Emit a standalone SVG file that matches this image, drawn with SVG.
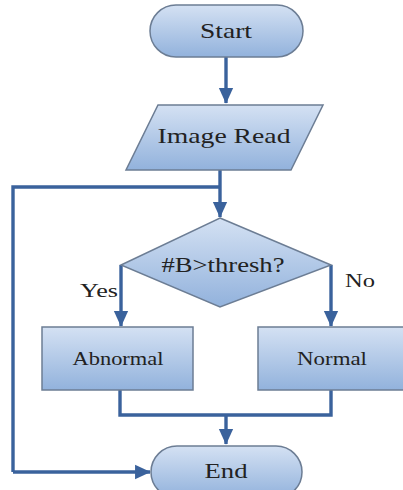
<svg xmlns="http://www.w3.org/2000/svg" width="403" height="490" viewBox="0 0 403 490">
<defs>
<linearGradient id="g" x1="0" y1="0" x2="0" y2="1">
<stop offset="0" stop-color="#d4e1f3"/>
<stop offset="1" stop-color="#92b2dc"/>
</linearGradient>
<marker id="ah" markerWidth="5" markerHeight="5" refX="4.4" refY="2.5" orient="auto" markerUnits="strokeWidth">
<path d="M0,0.4 L4.6,2.5 L0,4.6 Z" fill="#3a629c"/>
</marker>
<style>
.shape{fill:url(#g);stroke:#6c7d94;stroke-width:1.5}
.ln{fill:none;stroke:#3a629c;stroke-width:3.4}
.ar{marker-end:url(#ah)}
text{font-family:"Liberation Serif","Times New Roman",serif;fill:#222222;text-anchor:middle}
.t{font-size:21px}
.s{font-size:19px}
.l{font-size:18px}
</style>
</defs>
<rect width="403" height="490" fill="#ffffff"/>
<g id="connectors">
<path class="ln ar" d="M226,57 V103"/>
<path class="ln ar" d="M220,170 V217"/>
<path class="ln" d="M220,187 H13 V472"/>
<path class="ln ar" d="M13,472 H150"/>
<path class="ln ar" d="M121,265 V326"/>
<path class="ln ar" d="M331,265 V326"/>
<path class="ln" d="M120,390 V415 H331 V390"/>
<path class="ln ar" d="M226,415 V444"/>
</g>
<g id="start">
<rect class="shape" x="150" y="5" width="153" height="52" rx="26" ry="26"/>
<text class="t" x="226" y="38" textLength="52" lengthAdjust="spacingAndGlyphs">Start</text>
</g>
<g id="imageread">
<polygon class="shape" points="158,105 323,105 291,170 126,170"/>
<text class="t" x="224" y="143" textLength="133" lengthAdjust="spacingAndGlyphs">Image Read</text>
</g>
<g id="decision">
<polygon class="shape" points="220,218 331,265 220,307 121,265"/>
<text class="t" x="223" y="272" textLength="123" lengthAdjust="spacingAndGlyphs">#B&gt;thresh?</text>
</g>
<g id="yes-label">
<text class="l" x="99" y="297" textLength="38" lengthAdjust="spacingAndGlyphs">Yes</text>
</g>
<g id="no-label">
<text class="l" x="360" y="287" textLength="30" lengthAdjust="spacingAndGlyphs">No</text>
</g>
<g id="abnormal">
<rect class="shape" x="42" y="327" width="151" height="63"/>
<text class="s" x="118" y="365" textLength="91" lengthAdjust="spacingAndGlyphs">Abnormal</text>
</g>
<g id="normal">
<rect class="shape" x="258" y="327" width="150" height="63"/>
<text class="s" x="332" y="365" textLength="70" lengthAdjust="spacingAndGlyphs">Normal</text>
</g>
<g id="end">
<rect class="shape" x="151" y="446" width="151" height="52" rx="26" ry="26"/>
<text class="t" x="226" y="478" textLength="43" lengthAdjust="spacingAndGlyphs">End</text>
</g>
</svg>
